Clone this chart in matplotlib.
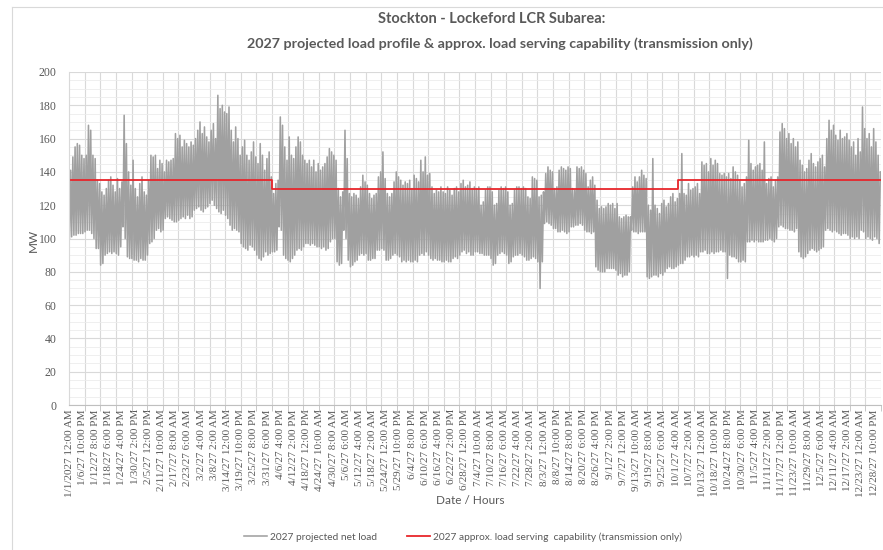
import numpy as np
import matplotlib
matplotlib.use("Agg")
import matplotlib.pyplot as plt
from matplotlib.lines import Line2D

# Daily peak and overnight low of the 2027 projected net load (MW), 52 weeks of 7 days
daily_peak = [
    141, 149, 155, 157, 156, 150, 148,
    150, 168, 165, 150, 148, 135, 133,
    128, 126, 130, 135, 137, 132, 128,
    136, 130, 134, 174, 157, 140, 132,
    147, 130, 125, 133, 137, 128, 126,
    135, 150, 149, 150, 142, 147, 145,
    140, 147, 146, 147, 148, 163, 160,
    162, 155, 159, 157, 155, 158, 156,
    160, 165, 170, 163, 167, 161, 158,
    165, 169, 160, 186, 178, 180, 176,
    175, 179, 165, 158, 167, 160, 150,
    155, 159, 150, 147, 152, 158, 149,
    145, 157, 150, 141, 148, 152, 137,
    127, 133, 135, 173, 168, 155, 147,
    161, 150, 148, 155, 161, 158, 150,
    147, 145, 147, 143, 147, 140, 145,
    141, 143, 145, 149, 154, 152, 150,
    147, 130, 125, 128, 165, 148, 127,
    125, 127, 126, 124, 131, 138, 134,
    132, 127, 124, 126, 127, 137, 140,
    152, 136, 127, 125, 127, 134, 140,
    137, 135, 132, 134, 133, 135, 130,
    138, 136, 134, 147, 140, 149, 138,
    139, 131, 127, 129, 128, 131, 128,
    127, 131, 129, 126, 130, 131, 128,
    133, 135, 131, 132, 134, 130, 131,
    130, 131, 120, 122, 129, 131, 131,
    128, 120, 121, 129, 131, 130, 131,
    128, 120, 121, 129, 131, 131, 130,
    131, 130, 125, 124, 137, 136, 135,
    125, 126, 128, 139, 143, 141, 140,
    130, 131, 141, 143, 142, 141, 143,
    142, 130, 129, 143, 142, 143, 141,
    139, 131, 135, 137, 132, 123, 118,
    119, 118, 119, 121, 120, 121, 118,
    121, 113, 112, 113, 114, 113, 113,
    131, 137, 134, 137, 141, 138, 136,
    120, 117, 148, 120, 118, 115, 121,
    123, 119, 121, 125, 127, 122, 124,
    127, 151, 127, 126, 133, 129, 130,
    131, 133, 127, 146, 144, 145, 140,
    148, 144, 147, 145, 139, 138, 139,
    137, 139, 136, 143, 140, 138, 135,
    131, 133, 137, 159, 145, 141, 143,
    144, 145, 141, 158, 133, 136, 137,
    131, 135, 137, 164, 169, 166, 160,
    163, 157, 160, 155, 158, 147, 144,
    140, 142, 147, 151, 145, 143, 146,
    148, 150, 143, 160, 171, 165, 168,
    162, 159, 165, 160, 161, 163, 159,
    155, 158, 150, 160, 152, 179, 166,
    160, 163, 155, 166, 158, 150, 140,
]
daily_low = [
    100, 101, 102, 102, 103, 103, 103,
    104, 105, 105, 103, 100, 94, 94,
    84, 85, 90, 91, 92, 91, 92,
    91, 90, 95, 107, 100, 89, 88,
    88, 87, 87, 86, 88, 87, 87,
    90, 97, 98, 100, 105, 106, 104,
    105, 112, 113, 112, 111, 110, 110,
    111, 112, 113, 112, 114, 112, 113,
    117, 118, 119, 117, 116, 118, 119,
    121, 123, 120, 118, 116, 115, 117,
    114, 112, 108, 105, 106, 105, 104,
    97, 95, 94, 93, 96, 95, 93,
    90, 88, 87, 89, 92, 90, 91,
    92, 92, 93, 107, 105, 90, 88,
    87, 86, 88, 90, 93, 94, 93,
    95, 97, 97, 96, 97, 96, 95,
    95, 94, 95, 93, 94, 98, 100,
    100, 86, 84, 85, 105, 100, 87,
    83, 84, 86, 87, 90, 91, 90,
    91, 87, 87, 88, 88, 93, 93,
    94, 93, 87, 87, 88, 90, 91,
    90, 89, 86, 87, 86, 87, 86,
    86, 87, 86, 90, 91, 90, 92,
    90, 88, 87, 88, 87, 87, 86,
    86, 87, 86, 86, 88, 89, 88,
    90, 92, 93, 91, 92, 90, 90,
    92, 92, 91, 91, 90, 90, 90,
    88, 84, 85, 90, 91, 92, 91,
    90, 85, 86, 89, 90, 90, 91,
    90, 89, 87, 87, 88, 89, 88,
    86, 70, 86, 109, 110, 109, 108,
    106, 106, 104, 104, 105, 104, 103,
    104, 107, 107, 108, 108, 109, 108,
    105, 104, 104, 103, 104, 83, 81,
    80, 80, 80, 82, 82, 82, 82,
    81, 78, 79, 77, 78, 78, 80,
    105, 104, 104, 103, 104, 104, 104,
    77, 76, 77, 78, 78, 77, 79,
    78, 80, 82, 83, 82, 82, 83,
    84, 85, 85, 87, 89, 89, 90,
    89, 90, 89, 92, 92, 93, 91,
    91, 92, 91, 92, 92, 93, 92,
    92, 76, 90, 89, 89, 88, 86,
    86, 87, 86, 98, 98, 99, 98,
    99, 98, 98, 98, 99, 99, 100,
    99, 98, 100, 107, 108, 107, 106,
    106, 105, 105, 104, 106, 92, 89,
    88, 89, 91, 93, 94, 93, 92,
    93, 94, 95, 105, 106, 105, 104,
    105, 104, 103, 102, 103, 103, 102,
    100, 101, 100, 101, 100, 105, 104,
    100, 101, 100, 99, 101, 100, 97,
]

# Approx. load serving capability (transmission only): start week of each period and MW
cap_start_week = [0, 13, 39]
cap_value = [135, 130, 135]

# Category axis labels, one every 142 hours
x_labels = [
    "1/1/2027 12:00 AM", "1/6/27 10:00 PM", "1/12/27 8:00 PM", "1/18/27 6:00 PM",
    "1/24/27 4:00 PM", "1/30/27 2:00 PM", "2/5/27 12:00 PM", "2/11/27 10:00 AM",
    "2/17/27 8:00 AM", "2/23/27 6:00 AM", "3/2/27 4:00 AM", "3/8/27 2:00 AM",
    "3/14/27 12:00 AM", "3/19/27 10:00 PM", "3/25/27 8:00 PM", "3/31/27 6:00 PM",
    "4/6/27 4:00 PM", "4/12/27 2:00 PM", "4/18/27 12:00 PM", "4/24/27 10:00 AM",
    "4/30/27 8:00 AM", "5/6/27 6:00 AM", "5/12/27 4:00 AM", "5/18/27 2:00 AM",
    "5/24/27 12:00 AM", "5/29/27 10:00 PM", "6/4/27 8:00 PM", "6/10/27 6:00 PM",
    "6/16/27 4:00 PM", "6/22/27 2:00 PM", "6/28/27 12:00 PM", "7/4/27 10:00 AM",
    "7/10/27 8:00 AM", "7/16/27 6:00 AM", "7/22/27 4:00 AM", "7/28/27 2:00 AM",
    "8/3/27 12:00 AM", "8/8/27 10:00 PM", "8/14/27 8:00 PM", "8/20/27 6:00 PM",
    "8/26/27 4:00 PM", "9/1/27 2:00 PM", "9/7/27 12:00 PM", "9/13/27 10:00 AM",
    "9/19/27 8:00 AM", "9/25/27 6:00 AM", "10/1/27 4:00 AM", "10/7/27 2:00 AM",
    "10/13/27 12:00 AM", "10/18/27 10:00 PM", "10/24/27 8:00 PM", "10/30/27 6:00 PM",
    "11/5/27 4:00 PM", "11/11/27 2:00 PM", "11/17/27 12:00 PM", "11/23/27 10:00 AM",
    "11/29/27 8:00 AM", "12/5/27 6:00 AM", "12/11/27 4:00 AM", "12/17/27 2:00 AM",
    "12/23/27 12:00 AM", "12/28/27 10:00 PM",
]
label_step = 142
low_hour = 4
peak_hour = 17

TEXT = "#595959"
GRID = "#d9d9d9"


def main():
    n_days = len(daily_peak)
    n_hours = n_days * 24
    days = np.arange(n_days)

    # hourly positions of the daily low and daily peak
    hours = np.column_stack([days * 24 + low_hour, days * 24 + peak_hour]).ravel()
    load = np.column_stack([daily_low, daily_peak]).ravel()

    cap_x = [w * 168 for w in cap_start_week] + [n_hours]
    cap_y = cap_value + [cap_value[-1]]

    fig = plt.figure(figsize=(8.83, 5.5), dpi=100)
    ax = fig.add_axes([69 / 883, 145 / 550, 812 / 883, 333 / 550])

    ax.plot(hours, load, color="#a0a0a0", linewidth=1.15,
            label="2027 projected net load")
    ax.step(cap_x, cap_y, where="post", color="#e8262b", linewidth=1.3,
            label="2027 approx. load serving  capability (transmission only)")

    ax.set_xlim(-0.5, n_hours - 0.5)
    ax.set_ylim(0, 200)

    # labels every 142 h, tick marks / gridlines every week
    ax.set_xticks(np.arange(len(x_labels)) * label_step)
    ax.set_xticklabels(x_labels, rotation=90, fontsize=8,
                       family="Liberation Serif", color=TEXT)
    ax.set_xticks(np.arange(0, n_hours + 1, 168), minor=True)
    ax.tick_params(axis="x", which="major", length=0, pad=3)
    ax.tick_params(axis="x", which="minor", length=4, color="#bfbfbf")

    ax.set_yticks(np.arange(0, 201, 20))
    ax.set_yticks(np.arange(0, 201, 5), minor=True)
    ax.set_yticklabels([str(v) for v in range(0, 201, 20)], fontsize=8.5,
                       family="Liberation Serif", color=TEXT)
    ax.tick_params(axis="y", which="both", length=0, pad=9)

    ax.grid(True, which="major", axis="y", color=GRID, linewidth=0.8)
    ax.grid(True, which="minor", axis="y", color="#ececec", linewidth=0.6)
    ax.grid(True, which="minor", axis="x", color=GRID, linewidth=0.8)
    ax.set_axisbelow(True)

    for side in ["top", "right"]:
        ax.spines[side].set_visible(False)
    ax.spines["left"].set_color(GRID)
    ax.spines["bottom"].set_color("#bfbfbf")

    # titles and axis names
    fig.text(0.557, 1 - 19 / 550, "Stockton - Lockeford LCR Subarea:",
             ha="center", va="center", fontsize=10.5, fontweight="bold",
             family="Lato", color=TEXT)
    fig.text(0.566, 1 - 44 / 550,
             "2027 projected load profile & approx. load serving capability (transmission only)",
             ha="center", va="center", fontsize=10.3, fontweight="bold",
             family="Lato", color=TEXT)
    fig.text(33 / 883, 1 - 240 / 550, "MW", rotation=90, ha="center", va="center",
             fontsize=8.5, family="Lato", color=TEXT)
    fig.text(470 / 883, 1 - 501 / 550, "Date / Hours", ha="center", va="center",
             fontsize=8.5, family="Lato", color=TEXT)

    leg = fig.legend(loc="center", bbox_to_anchor=(463 / 883, 1 - 537 / 550),
                     ncol=2, frameon=False, handlelength=2.2,
                     columnspacing=3.0, handletextpad=0.3,
                     prop={"family": "Lato", "size": 7.3})
    for txt in leg.get_texts():
        txt.set_color(TEXT)

    # chart area border (left and top edges visible in the crop)
    bx, by = 12 / 883, 1 - 7 / 550
    fig.add_artist(Line2D([bx, bx], [0, by], color=GRID, linewidth=0.8))
    fig.add_artist(Line2D([bx, 1], [by, by], color=GRID, linewidth=0.8))

    fig.savefig("out.png", dpi=100)


if __name__ == "__main__":
    main()
